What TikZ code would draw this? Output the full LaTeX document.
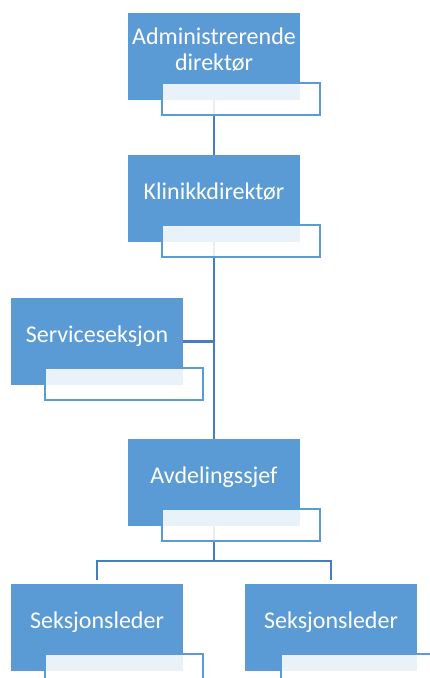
\documentclass[tikz,border=0pt]{standalone}
\usepackage{fontspec}
\setmainfont{Carlito}
\usetikzlibrary{positioning}
\definecolor{boxblue}{RGB}{91, 155, 213}
\definecolor{linkblue}{RGB}{72, 126, 190}

\begin{document}
\begin{tikzpicture}[x=1pt, y=-1pt,
  unit/.style={fill=boxblue, minimum width=172pt, minimum height=87pt, inner sep=0pt,
    text=white, align=center, text depth=14pt, font=\fontsize{24}{26}\selectfont},
  tag/.style={draw=boxblue, line width=2pt, fill=white, fill opacity=0.87,
    minimum width=158pt, minimum height=32pt, inner sep=0pt, anchor=north west},
  link/.style={draw=linkblue, line width=2.4pt}]
  \useasboundingbox (0, 0) rectangle (430, 678);
  \clip (0, 0) rectangle (430, 678);

  \node[unit] (adm) at (214, 56) {Administrerende\\direktør};
  \node[unit] (klin) at (214, 198.5) {Klinikkdirektør};
  \node[unit] (serv) at (97, 341.5) {Serviceseksjon};
  \node[unit] (avd) at (214, 482.5) {Avdelingssjef};
  \node[unit] (sek1) at (97, 627) {Seksjonsleder};
  \node[unit] (sek2) at (331, 627) {Seksjonsleder};

  % connectors under the tags
  \draw[link] (adm.south) -- (klin.north);
  \draw[link] (klin.south) -- (avd.north);
  \draw[link] (serv.east) -- (serv.east -| klin.south);
  \coordinate (split) at (214, 561);
  \draw[link] (avd.south) -- (split);
  \draw[link, shorten >=3pt] (split) -| (sek1.north);
  \draw[link, shorten >=3pt] (split) -| (sek2.north);

  \node[tag] (adm-tag) at ([xshift=33pt, yshift=18pt]adm.south west) {};
  \node[tag] (klin-tag) at ([xshift=33pt, yshift=18pt]klin.south west) {};
  \node[tag] (serv-tag) at ([xshift=33pt, yshift=18pt]serv.south west) {};
  \node[tag] (avd-tag) at ([xshift=33pt, yshift=18pt]avd.south west) {};
  \node[tag] (sek1-tag) at ([xshift=33pt, yshift=18pt]sek1.south west) {};
  \node[tag] (sek2-tag) at ([xshift=35pt, yshift=18pt]sek2.south west) {};
\end{tikzpicture}
\end{document}
